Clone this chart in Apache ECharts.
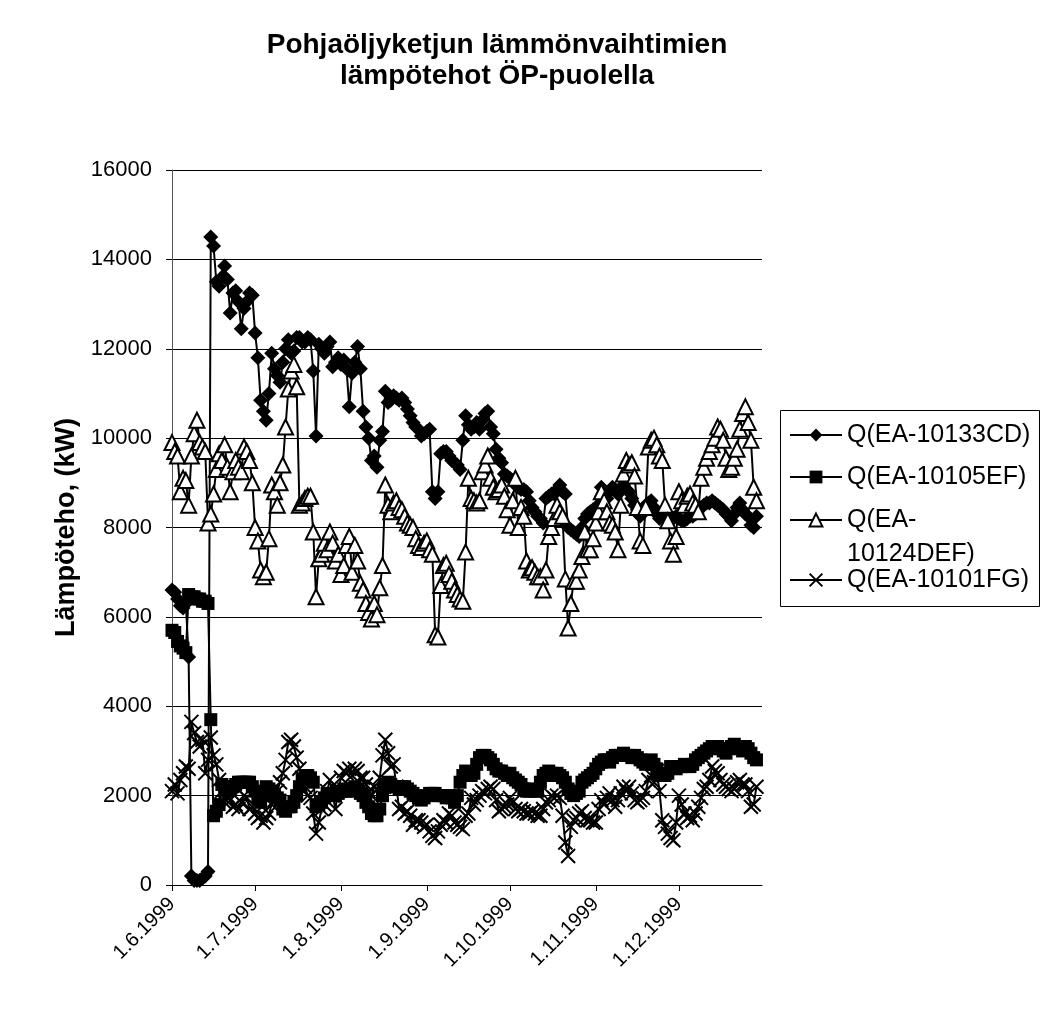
<!DOCTYPE html>
<html><head><meta charset="utf-8">
<script src="https://cdn.jsdelivr.net/npm/echarts@6/dist/echarts.min.js"></script>
<style>html,body{margin:0;padding:0;background:#fff}#c{width:1042px;height:1019px}</style>
</head><body><div id="c"></div>
<script>
// first day of the daily series (d.m.yyyy) and axis end
const startDate = '1.6.1999';
const endDate = '31.12.1999';
const monthLabels = ['1.6.1999','1.7.1999','1.8.1999','1.9.1999','1.10.1999','1.11.1999','1.12.1999'];
const yTicks = [0,2000,4000,6000,8000,10000,12000,14000,16000];
const seriesNames = ['Q(EA-10133CD)','Q(EA-10105EF)','Q(EA-10124DEF)','Q(EA-10101FG)'];
const titleText = 'Pohjaöljyketjun lämmönvaihtimien\nlämpötehot ÖP-puolella';
const yName = 'Lämpöteho, (kW)';

const q10133CD = [
6600,6550,6400,6250,6200,6300,5100,200,100,100,
100,150,200,300,14500,14300,13500,13400,13600,13850,
13550,12800,13250,13300,13050,12450,12900,13050,13250,13200,
12350,11800,10850,10600,10400,11000,11900,11550,11400,11250,
11700,12000,12200,11900,11950,12250,12250,12150,12150,12250,
12200,11500,10050,12100,12000,11900,12050,12150,11600,11700,
11800,11650,11750,11550,10700,11450,11700,12050,11550,10600,
10250,10000,9500,9600,9350,9950,10150,11050,10800,10850,
10950,10900,10850,10900,10800,10650,10500,10350,10250,10200,
10050,10100,10150,10200,8800,8650,8800,9650,9700,9700,
9600,9500,9450,9400,9300,9950,10500,10300,10200,10250,
10350,10200,10400,10550,10600,10250,10100,9750,9550,9450,
9200,9150,9100,9050,8950,8900,8850,8850,8800,8600,
8450,8350,8250,8200,8100,8650,8700,8750,8750,8850,
8950,8800,8750,8000,7950,7900,7850,7800,8000,8200,
8300,8350,8400,8450,8500,8900,8750,8650,8800,8900,
8850,8750,8850,8950,8850,8800,8650,8500,8400,8250,
8350,8500,8550,8600,8450,8300,8200,8250,8250,8200,
8250,8200,8250,8200,8150,8150,8200,8250,8250,8300,
8400,8450,8500,8550,8550,8600,8550,8500,8450,8400,
8300,8250,8150,8300,8450,8550,8400,8300,8250,8050,
8000,8250];

const q10105EF = [
5700,5650,5450,5350,5300,5200,6500,6450,6450,6400,
6400,6350,6350,6300,3700,1550,1650,1800,2250,2200,
2100,2150,2200,2250,2300,2300,2300,2300,2300,2200,
2100,1950,1850,2000,2200,2150,2100,2000,1950,1900,
1700,1650,1750,1750,1850,2000,2200,2350,2400,2450,
2400,2300,1750,1800,1850,1950,2050,2050,2000,2000,
2050,2100,2150,2100,2100,2150,2200,2150,2050,2000,
1850,1750,1600,1550,1550,1700,2000,2200,2300,2250,
2200,2200,2150,2200,2200,2150,2100,2050,2000,1950,
1900,1950,2000,2050,2050,2050,2000,2000,2000,1950,
2000,1950,1850,2000,2300,2450,2550,2500,2450,2500,
2700,2850,2900,2900,2850,2800,2700,2600,2550,2550,
2500,2450,2500,2400,2350,2300,2250,2150,2100,2100,
2150,2100,2100,2300,2450,2500,2550,2500,2450,2500,
2450,2400,2300,2150,2050,2000,2050,2100,2300,2350,
2400,2450,2500,2600,2700,2750,2800,2800,2750,2850,
2900,2900,2900,2950,2900,2900,2850,2900,2850,2800,
2750,2700,2750,2800,2700,2600,2500,2450,2450,2500,
2650,2650,2600,2650,2650,2700,2650,2650,2700,2800,
2850,2900,2950,3000,3050,3100,3100,3100,3050,3000,
2950,3050,3100,3150,3100,3050,3000,3100,3050,2950,
2850,2800];

const q10124DEF = [
9900,9700,9600,8800,9100,9050,8500,9600,10100,10400,
9900,9800,9700,8100,8300,8750,9300,9650,9500,9850,
9350,8800,9250,9500,9350,9250,9800,9700,9500,9000,
8000,7700,7050,6900,7000,7750,8950,8800,8500,9000,
9400,10250,11100,11500,11650,11150,8500,8550,8650,8700,
8700,7900,6450,7300,7400,7650,7500,7900,7650,7250,
7400,6950,7150,7600,7800,7000,7600,7250,6750,6600,
6300,6100,5950,6300,6050,6650,7150,8950,8500,8350,
8550,8600,8450,8400,8250,8100,8050,8000,7750,7600,
7550,7650,7700,7500,7400,5600,5550,6700,7150,7200,
6950,6800,6600,6500,6400,6350,7450,9100,8650,8600,
8550,8600,9250,9400,9600,9100,8900,8800,8850,8950,
8700,8400,8050,8600,9100,8000,8450,8250,7250,7050,
7100,7000,6900,6900,6600,7050,7800,8000,8200,8500,
8350,8250,6850,5750,6300,6800,6800,7050,7350,7900,
7500,7500,7750,8100,8350,8800,8600,8350,8100,8050,
7900,7500,8500,9200,9500,9400,9450,9150,8450,7700,
7600,8450,9800,9950,10000,9850,9600,9500,8500,8150,
7700,7400,7800,8800,8600,8500,8700,8750,8550,8500,
8350,9100,9350,9550,9700,9850,10000,10250,10200,9950,
9550,9300,9350,9550,9750,10200,10550,10700,10350,9950,
8900,8600];

const q10101FG = [
2100,2250,2050,2350,2500,2650,2600,3650,3400,3200,
3100,3250,2500,2800,3300,2900,2700,2350,2100,1850,
2000,1900,1750,1800,1700,1850,2000,1950,1700,1750,
1600,1500,1550,1400,1500,1600,1800,1900,2100,2300,
2500,2800,3200,3250,3100,2850,2600,2400,2200,2000,
1950,1600,1150,1400,1700,1800,2100,2350,2000,1700,
2100,2400,2550,2500,2600,2450,2600,2550,2400,2400,
2250,2100,2000,2200,2150,2400,2900,3250,2950,2650,
2700,2200,1700,1750,1600,1650,1550,1350,1450,1450,
1400,1300,1350,1200,1100,1050,1200,1350,1450,1400,
1600,1550,1400,1350,1300,1250,1550,1600,1950,1800,
1900,2000,2100,2050,2150,2200,2150,1900,1650,1700,
1750,1800,1950,1850,1700,1650,1700,1650,1600,1600,
1650,1600,1550,1550,1700,1850,1900,2000,1950,2000,
1950,1550,950,650,1300,1450,1500,1600,1650,1500,
1450,1450,1400,1400,1700,1900,1800,1950,2050,1900,
1750,1900,2050,2200,2100,2200,2050,1900,1850,1900,
1950,2100,2350,2450,2300,2550,2100,1450,1300,1150,
1050,1000,1400,2000,1800,1600,1500,1550,1450,1600,
1750,1950,2150,2200,2350,2650,2550,2500,2350,2250,
2200,2150,2100,2150,2300,2350,2250,2250,2100,1750,
1800,2200];

const FONT = '"Liberation Sans", Arial, sans-serif';
const DAY = 86400000;
function parseFi(s){ const p = s.split('.'); return Date.UTC(+p[2], +p[1]-1, +p[0]); }
const t0 = parseFi(startDate);
function dayOf(s){ return Math.round((parseFi(s) - t0) / DAY); }
const tickDays = monthLabels.map(dayOf);
const labelByDay = {};
monthLabels.forEach((l, i) => { labelByDay[tickDays[i]] = l; });
function pairs(arr){ return arr.map((v,i)=>[i, v]); }

const crossPath = 'path://M0,0L10,10M10,0L0,10';
const symbols = ['diamond','rect','triangle',crossPath];
const sizes = [15,13,15,14];
const datasets = [q10133CD, q10105EF, q10124DEF, q10101FG];

const series = datasets.map((arr, i) => ({
  name: seriesNames[i],
  type: 'line',
  data: pairs(arr),
  symbol: symbols[i],
  symbolSize: sizes[i],
  showSymbol: true,
  lineStyle: {color:'#000', width:2},
  itemStyle: i === 2 ? {color:'#fff', borderColor:'#000', borderWidth:2}
           : i === 3 ? {color:'#000', borderColor:'#000', borderWidth:2}
           : {color:'#000', borderColor:'#000', borderWidth:0},
  emphasis: {disabled:true},
  animation: false
}));

const legendText = {fontFamily:FONT, fontSize:25, color:'#000', lineHeight:28};
const legendBase = {
  orient:'vertical', left:789, padding:0,
  itemWidth:52, itemHeight:16, itemGap:14,
  textStyle:legendText,
  selectedMode:false
};

// the long third name wraps after the hyphen, as in the original legend
function wrapName(n){
  const k = n.indexOf('-') + 1;
  return '{s| }\n{t|' + n.slice(0, k) + '}\n{t|' + n.slice(k) + '}';
}

const chart = echarts.init(document.getElementById('c'), null, {renderer:'canvas'});
chart.setOption({
  backgroundColor:'#fff',
  animation:false,
  title:{
    text:titleText, left:492, top:25, textAlign:'center',
    textStyle:{fontFamily:FONT, fontSize:28, fontWeight:'bold', color:'#000', lineHeight:31}
  },
  legend:[
    Object.assign({}, legendBase, {top:421, data:[seriesNames[0], seriesNames[1]]}),
    Object.assign({}, legendBase, {top:469, data:[seriesNames[2]],
        formatter: wrapName,
        textStyle:Object.assign({}, legendText, {rich:{
          s:{fontFamily:FONT, fontSize:25, lineHeight:34},
          t:{fontFamily:FONT, fontSize:25, lineHeight:34, color:'#000'}
        }})}),
    Object.assign({}, legendBase, {top:566, data:[seriesNames[3]]})
  ],
  graphic:[{
    type:'rect', silent:true, z:0,
    shape:{x:780.5, y:410.5, width:259, height:196},
    style:{fill:'#fff', stroke:'#000', lineWidth:1}
  }],
  grid:{left:172, right:280, top:170, bottom:134, containLabel:false},
  xAxis:{
    type:'value', min:0, max:dayOf(endDate),
    axisLine:{show:true, onZero:false, lineStyle:{color:'#000', width:1}},
    axisTick:{show:true, customValues:tickDays, length:6, inside:false, lineStyle:{color:'#000'}},
    axisLabel:{customValues:tickDays, rotate:45, formatter:v => labelByDay[Math.round(v)] || '', fontFamily:FONT, fontSize:20, color:'#000', margin:16},
    splitLine:{show:false}
  },
  yAxis:{
    type:'value', min:yTicks[0], max:yTicks[yTicks.length-1], interval:yTicks[1]-yTicks[0],
    name:yName, nameLocation:'middle', nameGap:78, nameRotate:90,
    nameTextStyle:{fontFamily:FONT, fontSize:27, fontWeight:'bold', color:'#000'},
    axisLine:{show:true, lineStyle:{color:'#555', width:1}},
    axisTick:{show:true, length:6, lineStyle:{color:'#000'}},
    axisLabel:{fontFamily:FONT, fontSize:22, color:'#000', margin:20, formatter:v => String(v)},
    splitLine:{show:true, lineStyle:{color:'#000', width:1}}
  },
  series: series
});
</script></body></html>
